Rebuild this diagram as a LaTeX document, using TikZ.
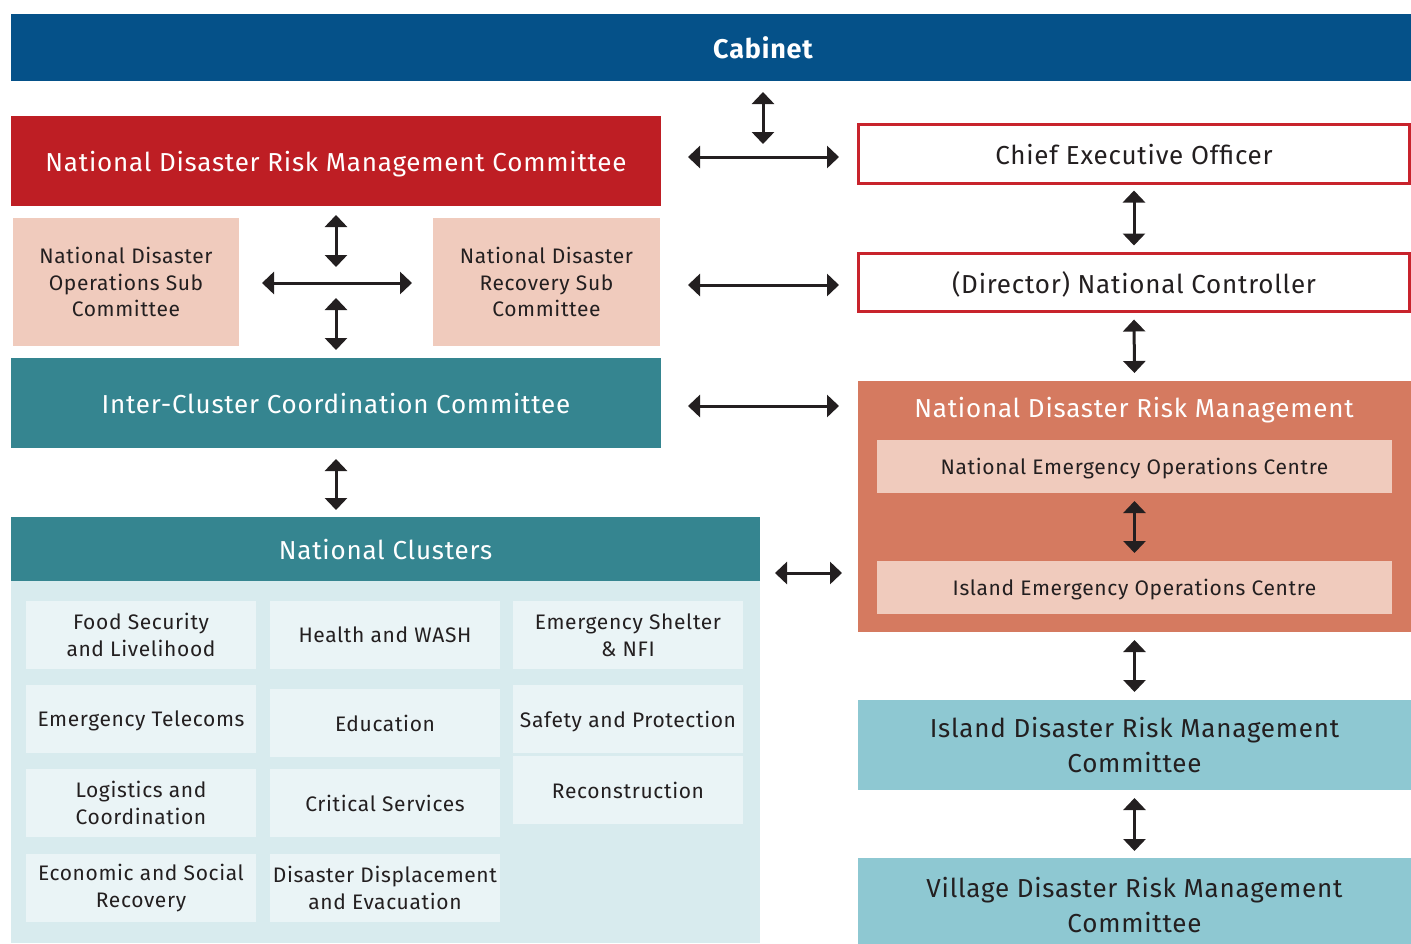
\documentclass[tikz,border=0pt]{standalone}
\usepackage{fontspec}
\setmainfont{Fira Sans}[LetterSpace=3]
\usetikzlibrary{arrows.meta}
\definecolor{cabblue}{RGB}{5,81,137}
\definecolor{ndred}{RGB}{190,30,36}
\definecolor{pale}{RGB}{240,203,189}
\definecolor{teal}{RGB}{53,133,144}
\definecolor{ceored}{RGB}{200,35,44}
\definecolor{orng}{RGB}{213,122,96}
\definecolor{ltblue}{RGB}{142,200,210}
\definecolor{cbody}{RGB}{216,235,238}
\definecolor{cell}{RGB}{234,244,246}
\definecolor{dark}{RGB}{35,31,32}
\tikzset{
  box/.style={inner sep=0pt, outer sep=0pt, align=center, text=dark, anchor=center},
  oneline/.style={text depth=0pt},
  big/.style={font=\fontsize{26}{35}\selectfont},
  mid/.style={font=\fontsize{21}{26.5}\selectfont},
  small/.style={font=\fontsize{21}{27}\selectfont},
  cellbox/.style={box, fill=cell, small, minimum width=230pt, minimum height=68pt},
  arr/.style={line width=3pt, draw=dark, {Triangle[width=22pt,length=12pt]}-{Triangle[width=22pt,length=12pt]}},
}
\begin{document}
\begin{tikzpicture}[x=1pt,y=-1pt]
\useasboundingbox (0,0) rectangle (1411,943);
% top
\node[box, oneline, fill=cabblue, text=white, font=\fontsize{27}{30}\selectfont\bfseries, minimum width=1400pt, minimum height=67pt] (cab) at (711,47.5) {\hspace*{104pt}Cabinet};
\node[box, oneline, fill=ndred, text=white, big, minimum width=650pt, minimum height=90pt] (ndrmc) at (336,161) {National Disaster Risk Management Committee};
\node[box, fill=pale, mid, minimum width=226pt, minimum height=128pt] (ops) at (126,282) {National Disaster\\Operations Sub\\Committee};
\node[box, fill=pale, mid, minimum width=227pt, minimum height=128pt] (rec) at (546.5,282) {National Disaster\\Recovery Sub\\Committee};
\node[box, oneline, fill=teal, text=white, big, minimum width=650pt, minimum height=90pt] (iccc) at (336,403) {Inter-Cluster Coordination Committee};
% clusters
\node[box, fill=cbody, minimum width=749pt, minimum height=362pt] (cbody) at (385.5,762) {};
\node[box, oneline, fill=teal, text=white, big, minimum width=749pt, minimum height=64pt] (clus) at (385.5,549) {National Clusters};
\node[cellbox] (c11) at (141,635) {Food Security\\and Livelihood};
\node[cellbox, oneline] (c21) at (141,719) {Emergency Telecoms};
\node[cellbox] (c31) at (141,803) {Logistics and\\Coordination};
\node[cellbox] (c41) at (141,888) {Economic and Social\\Recovery};
\node[cellbox, oneline] (c12) at (385,635) {Health and WASH};
\node[cellbox, oneline] (c22) at (385,723) {Education};
\node[cellbox, oneline] (c32) at (385,803) {Critical Services};
\node[cellbox] (c42) at (385,888) {Disaster Displacement\\and Evacuation};
\node[cellbox] (c13) at (628,635) {Emergency Shelter\\\& NFI};
\node[cellbox, oneline] (c23) at (628,719) {Safety and Protection};
\node[cellbox, oneline] (c33) at (628,790) {Reconstruction};
% right column
\node[box, oneline, draw=ceored, line width=3pt, fill=white, big, minimum width=551pt, minimum height=59pt] (ceo) at (1134,154) {Chief Executive Officer};
\node[box, oneline, draw=ceored, line width=3pt, fill=white, big, minimum width=551pt, minimum height=58pt] (dir) at (1134,282.5) {(Director) National Controller};
\node[box, fill=orng, minimum width=553pt, minimum height=251pt] (ndrm) at (1134.5,506.5) {};
\node[oneline, text=white, big, inner sep=0pt] (ndrmt) at (1134,407) {National Disaster Risk Management};
\node[box, oneline, fill=pale, small, minimum width=515pt, minimum height=53pt] (neoc) at (1134.5,466.5) {National Emergency Operations Centre};
\node[box, oneline, fill=pale, small, minimum width=515pt, minimum height=53pt] (ieoc) at (1134.5,587.5) {Island Emergency Operations Centre};
\node[box, fill=ltblue, big, minimum width=553pt, minimum height=90pt] (idrmc) at (1134.5,745) {Island Disaster Risk Management\\Committee};
\node[box, fill=ltblue, big, minimum width=553pt, minimum height=95pt] (vdrmc) at (1134.5,905.5) {Village Disaster Risk Management\\Committee};
% arrow end points
\coordinate (a1a) at (763,92);  \coordinate (a1b) at (763,144);
\coordinate (a2a) at (688,157); \coordinate (a2b) at (839,157);
\coordinate (a3a) at (688,285); \coordinate (a3b) at (839,285);
\coordinate (a4a) at (688,406); \coordinate (a4b) at (839,406);
\coordinate (a5a) at (775,573); \coordinate (a5b) at (842,573);
\coordinate (l1a) at (336,215); \coordinate (l1b) at (336,267);
\coordinate (l2a) at (262,283); \coordinate (l2b) at (412,283);
\coordinate (l3a) at (336,298); \coordinate (l3b) at (336,350);
\coordinate (l4a) at (336,459); \coordinate (l4b) at (336,510);
% arrows
\draw[arr] (a1a) -- (a1b);
\draw[arr] (a2a) -- (a2b);
\draw[arr] (a3a) -- (a3b);
\draw[arr] (a4a) -- (a4b);
\draw[arr] (a5a) -- (a5b);
\draw[arr] (l1a) -- (l1b);
\draw[arr] (l2a) -- (l2b);
\draw[arr] (l3a) -- (l3b);
\draw[arr] (l4a) -- (l4b);
\draw[arr, shorten <=7pt, shorten >=8pt] (ceo.south) -- (dir.north);
\draw[arr, shorten <=8pt, shorten >=8pt] (dir.south) -- (ndrm.north);
\draw[arr, shorten <=8pt, shorten >=8pt] (neoc.south) -- (ieoc.north);
\draw[arr, shorten <=8pt, shorten >=8pt] (ndrm.south) -- (idrmc.north);
\draw[arr, shorten <=8pt, shorten >=7pt] (idrmc.south) -- (vdrmc.north);
\end{tikzpicture}
\end{document}
